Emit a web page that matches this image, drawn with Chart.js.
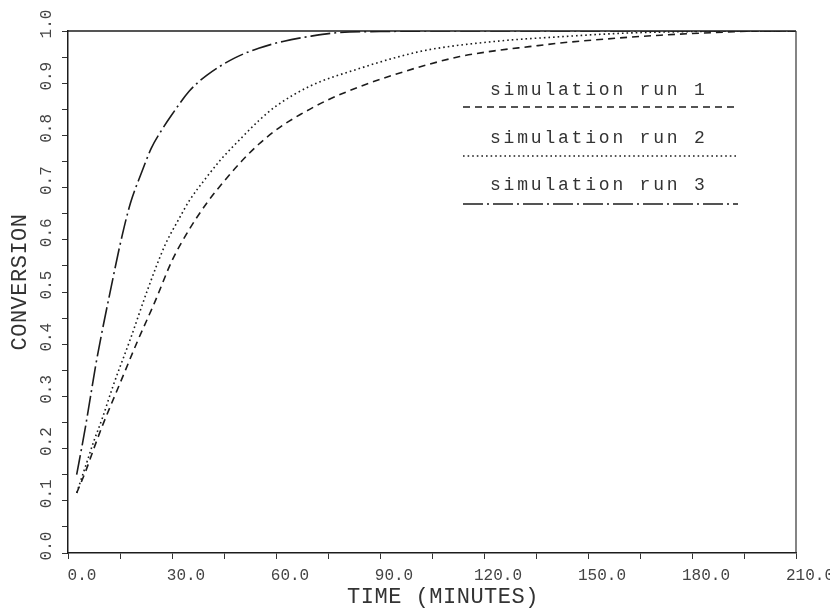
<!DOCTYPE html>
<html>
<head>
<meta charset="utf-8">
<script src="https://cdn.jsdelivr.net/npm/chart.js@4/dist/chart.umd.min.js"></script>
<style>
html,body{margin:0;padding:0;background:#fff;}
#wrap{width:830px;height:612px;position:relative;}
</style>
</head>
<body>
<div id="wrap"><canvas id="c" width="830" height="612"></canvas></div>
<script>
// ---- data ----
const timeRun1 = [2.5, 5, 8, 10, 15, 20, 25, 30, 35, 40, 45, 50, 55, 61, 67, 75, 84, 94, 104, 113, 123, 133, 142, 152, 171, 190, 200, 210];
const conversionRun1 = [0.115, 0.155, 0.21, 0.245, 0.325, 0.405, 0.48, 0.56, 0.62, 0.67, 0.712, 0.75, 0.783, 0.815, 0.84, 0.868, 0.893, 0.916, 0.936, 0.951, 0.962, 0.970, 0.977, 0.983, 0.992, 0.998, 1.0, 1.0];

const timeRun2 = [2.5, 5, 7.5, 10, 13, 18, 23, 28, 32, 35, 40, 44, 50, 55, 60, 70, 84, 95, 104, 123, 142, 161, 180, 195, 210];
const conversionRun2 = [0.115, 0.165, 0.215, 0.26, 0.32, 0.41, 0.505, 0.59, 0.64, 0.675, 0.72, 0.753, 0.795, 0.828, 0.856, 0.895, 0.928, 0.95, 0.964, 0.98, 0.989, 0.996, 0.999, 1.0, 1.0];

const timeRun3 = [2.5, 5, 6.5, 8, 10, 12, 15, 18, 21, 24, 27, 30, 35, 40, 48, 55, 62, 70, 78, 90, 110, 130, 170, 210];
const conversionRun3 = [0.15, 0.24, 0.30, 0.36, 0.43, 0.495, 0.59, 0.67, 0.725, 0.775, 0.81, 0.84, 0.885, 0.915, 0.948, 0.967, 0.98, 0.99, 0.997, 0.999, 1.0, 1.0, 1.0, 1.0];

const seriesNames = ['simulation run 1', 'simulation run 2', 'simulation run 3'];
const xTickValues = [0, 30, 60, 90, 120, 150, 180, 210];
const xTickLabels = ['0.0', '30.0', '60.0', '90.0', '120.0', '150.0', '180.0', '210.0'];
const yTickValues = [0, 0.1, 0.2, 0.3, 0.4, 0.5, 0.6, 0.7, 0.8, 0.9, 1.0];
const yTickLabels = ['0.0', '0.1', '0.2', '0.3', '0.4', '0.5', '0.6', '0.7', '0.8', '0.9', '1.0'];
const xAxisTitle = 'TIME (MINUTES)';
const yAxisTitle = 'CONVERSION';

// ---- styles ----
const INK = '#1c1c1c';
const TEXT = '#444';
const dashes = [[7, 5], [1.6, 3], [20, 4, 2, 4]];
const MONO = '"Liberation Mono", "DejaVu Sans Mono", monospace';

function pts(xs, ys) { return xs.map((t, i) => ({x: t, y: ys[i]})); }

const overlay = {
  id: 'overlay',
  afterDraw(chart) {
    const {ctx, chartArea: a, scales: {y}} = chart;
    ctx.save();
    // top and right frame
    ctx.strokeStyle = INK;
    ctx.lineWidth = 1.5;
    ctx.beginPath();
    ctx.moveTo(a.left, a.top);
    ctx.lineTo(a.right, a.top);
    ctx.stroke();
    ctx.strokeStyle = '#333';
    ctx.lineWidth = 1.2;
    ctx.beginPath();
    ctx.moveTo(a.right, a.top);
    ctx.lineTo(a.right, a.bottom);
    ctx.stroke();

    // rotated y tick labels
    ctx.fillStyle = TEXT;
    ctx.font = '16px ' + MONO;
    ctx.textAlign = 'center';
    ctx.textBaseline = 'middle';
    yTickLabels.forEach((lab, i) => {
      const py = y.getPixelForValue(yTickValues[i]);
      ctx.save();
      ctx.translate(a.left - 21, py - 7);
      ctx.rotate(-Math.PI / 2);
      ctx.fillText(lab, 0, 0);
      ctx.restore();
    });

    // axis titles
    ctx.fillStyle = '#333';
    ctx.font = '22px ' + MONO;
    if ('letterSpacing' in ctx) ctx.letterSpacing = '0.5px';
    ctx.save();
    ctx.translate(20, 282);
    ctx.rotate(-Math.PI / 2);
    ctx.fillText(yAxisTitle, 0, 0);
    ctx.restore();
    ctx.fillText(xAxisTitle, 443, 597);

    // legend: text above a line sample
    ctx.font = '18px ' + MONO;
    if ('letterSpacing' in ctx) ctx.letterSpacing = '2.8px';
    ctx.textAlign = 'left';
    ctx.textBaseline = 'alphabetic';
    const textY = [95, 143, 190];
    const lineY = [107, 156, 204];
    seriesNames.forEach((name, i) => {
      ctx.fillStyle = '#333';
      ctx.fillText(name, 490, textY[i]);
      ctx.strokeStyle = INK;
      ctx.lineWidth = 1.5;
      ctx.setLineDash(dashes[i]);
      ctx.beginPath();
      ctx.moveTo(463, lineY[i]);
      ctx.lineTo(738, lineY[i]);
      ctx.stroke();
    });
    ctx.setLineDash([]);
    ctx.restore();
  }
};

new Chart(document.getElementById('c'), {
  type: 'line',
  data: {
    datasets: [
      {label: seriesNames[0], data: pts(timeRun1, conversionRun1), borderDash: dashes[0]},
      {label: seriesNames[1], data: pts(timeRun2, conversionRun2), borderDash: dashes[1]},
      {label: seriesNames[2], data: pts(timeRun3, conversionRun3), borderDash: dashes[2]}
    ].map(d => Object.assign(d, {
      borderColor: INK, borderWidth: 1.6, pointRadius: 0, fill: false,
      cubicInterpolationMode: 'monotone'
    }))
  },
  options: {
    responsive: false,
    animation: false,
    devicePixelRatio: 1,
    layout: {padding: {left: 0, top: 31, right: 34, bottom: 0}},
    plugins: {legend: {display: false}, tooltip: {enabled: false}},
    scales: {
      x: {
        type: 'linear', min: 0, max: 210,
        afterFit: s => { s.height = 59; },
        ticks: {
          stepSize: 15, autoSkip: false, maxRotation: 0, minRotation: 0,
          labelOffset: 14, padding: 7, color: TEXT,
          font: {family: MONO, size: 16},
          callback: v => { const i = xTickValues.indexOf(v); return i >= 0 ? xTickLabels[i] : ''; }
        },
        grid: {drawOnChartArea: false, drawTicks: true, tickLength: 6, color: '#333', lineWidth: 1},
        border: {display: true, color: INK, width: 1.5}
      },
      y: {
        type: 'linear', min: 0, max: 1,
        afterFit: s => { s.width = 68; },
        ticks: {stepSize: 0.05, autoSkip: false, callback: () => ''},
        grid: {drawOnChartArea: false, drawTicks: true, tickLength: 6, color: '#333', lineWidth: 1},
        border: {display: true, color: INK, width: 1.5}
      }
    }
  },
  plugins: [overlay]
});
</script>
</body>
</html>
